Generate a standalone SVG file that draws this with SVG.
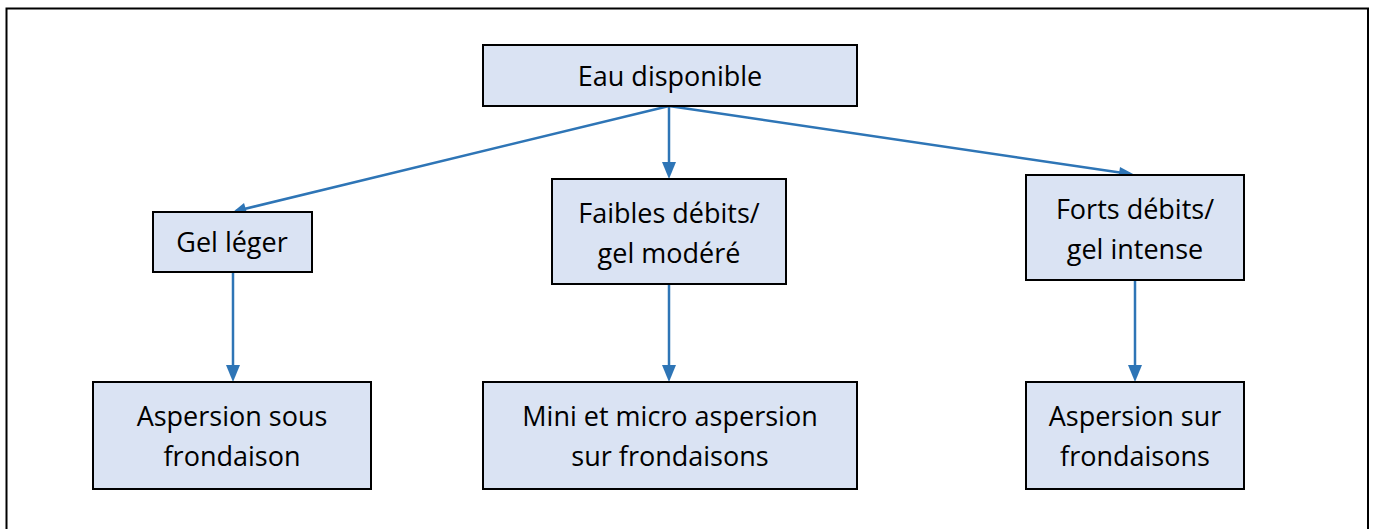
<svg xmlns="http://www.w3.org/2000/svg" width="1375" height="529" viewBox="0 0 1375 529">
<defs>
<style>
.box{fill:#DAE3F3;stroke:#000;stroke-width:2}
.t{font-family:"Open Sans","Liberation Sans",sans-serif;font-size:27px;fill:#000;text-anchor:middle}
.c{stroke:#2E75B6;stroke-width:2.5;fill:none}
</style>
</defs>
<rect width="1375" height="529" fill="#fff"/>
<path d="M6.5,529 V8.5 H1368 V529" fill="none" stroke="#000" stroke-width="2"/>
<g id="connectors">
<line class="c" x1="669" y1="106" x2="236" y2="211"/>
<line class="c" x1="669" y1="106" x2="669" y2="172"/>
<line class="c" x1="669" y1="106" x2="1130" y2="174"/>
<line class="c" x1="233" y1="272" x2="233" y2="375"/>
<line class="c" x1="669" y1="284" x2="669" y2="375"/>
<line class="c" x1="1135" y1="280" x2="1135" y2="375"/>
<g id="heads" fill="#2E75B6">
<path d="M233,212 L244,203 L247,213 z"/>
<path d="M669,179 L662,162 L676,162 z"/>
<path d="M1135,175 L1118,180 L1120,167 z"/>
<path d="M233,382 L226,365 L240,365 z"/>
<path d="M669,382 L662,365 L676,365 z"/>
<path d="M1135,382 L1128,365 L1142,365 z"/>
</g>
</g>
<g id="n1"><rect class="box" x="483" y="45" width="374" height="61"/><text class="t" x="670" y="86">Eau disponible</text></g>
<g id="n2"><rect class="box" x="153" y="212" width="159" height="60"/><text class="t" x="232" y="252">Gel léger</text></g>
<g id="n3"><rect class="box" x="552" y="179" width="234" height="105"/><text class="t" x="669" y="223">Faibles débits/</text><text class="t" x="669" y="263">gel modéré</text></g>
<g id="n4"><rect class="box" x="1026" y="175" width="218" height="105"/><text class="t" x="1135" y="219">Forts débits/</text><text class="t" x="1135" y="259">gel intense</text></g>
<g id="n5"><rect class="box" x="93" y="382" width="278" height="107"/><text class="t" x="232" y="426">Aspersion sous</text><text class="t" x="232" y="466">frondaison</text></g>
<g id="n6"><rect class="box" x="483" y="382" width="374" height="107"/><text class="t" x="670" y="426">Mini et micro aspersion</text><text class="t" x="670" y="466">sur frondaisons</text></g>
<g id="n7"><rect class="box" x="1026" y="382" width="218" height="107"/><text class="t" x="1135" y="426">Aspersion sur</text><text class="t" x="1135" y="466">frondaisons</text></g>
</svg>
